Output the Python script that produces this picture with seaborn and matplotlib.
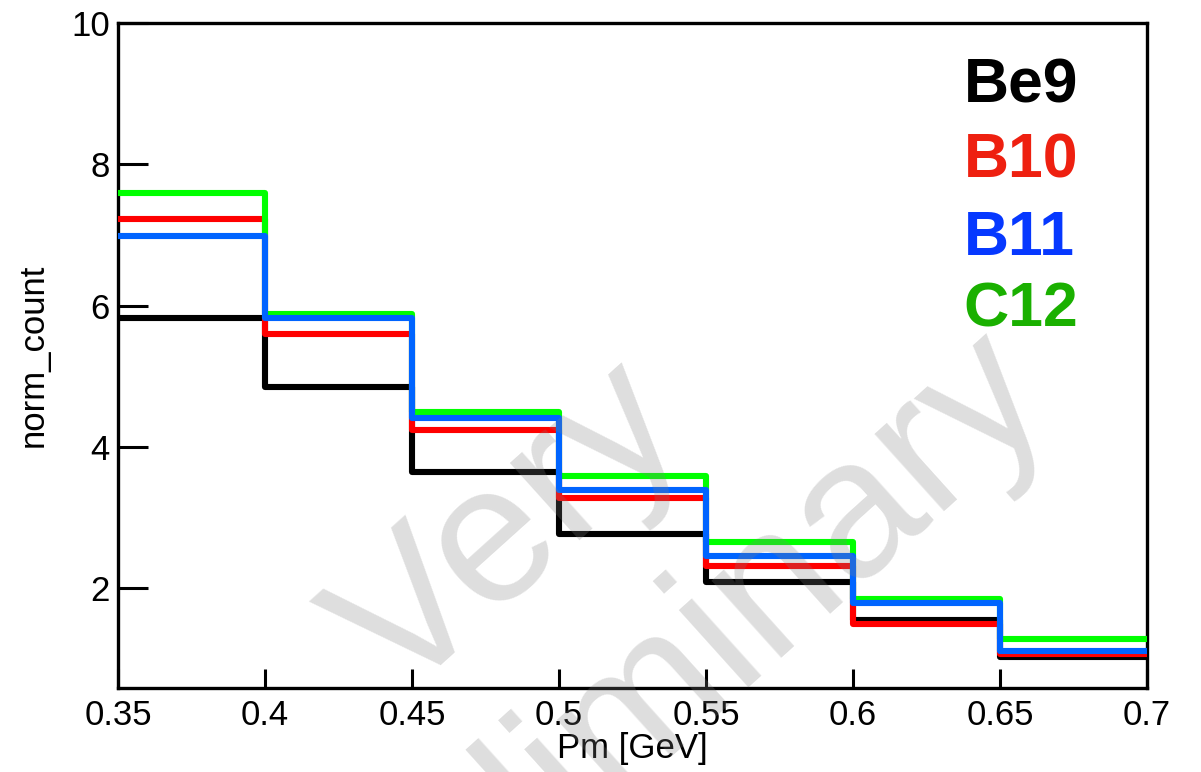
import numpy as np
import pandas as pd
import matplotlib
matplotlib.use("Agg")
import matplotlib.pyplot as plt
import seaborn as sns

# ---- data ----
bin_edges = [0.35, 0.40, 0.45, 0.50, 0.55, 0.60, 0.65, 0.70]
be9 = [5.82, 4.85, 3.64, 2.77, 2.08, 1.55, 1.02]
b10 = [7.23, 5.60, 4.24, 3.28, 2.31, 1.49, 1.07]
c12 = [7.59, 5.88, 4.49, 3.59, 2.65, 1.84, 1.28]
b11 = [6.98, 5.82, 4.41, 3.39, 2.46, 1.79, 1.11]
series_names = ["Be9", "B10", "B11", "C12"]
x_ticks = [0.35, 0.4, 0.45, 0.5, 0.55, 0.6, 0.65, 0.7]
x_tick_labels = ["0.35", "0.4", "0.45", "0.5", "0.55", "0.6", "0.65", "0.7"]
y_ticks = [2, 4, 6, 8, 10]
y_tick_labels = ["2", "4", "6", "8", "10"]

sns.set_theme(style="white")
plt.rcParams["font.family"] = ["Liberation Sans", "DejaVu Sans"]

fig = plt.figure(figsize=(12.01, 7.72), dpi=100)
ax = fig.add_axes([118 / 1201, 1 - 688 / 772, (1147 - 118) / 1201, (688 - 23) / 772])

centers = [(a + b) / 2 for a, b in zip(bin_edges[:-1], bin_edges[1:])]
line_colors = {"Be9": "#000000", "B10": "#ff0000", "C12": "#00ff00", "B11": "#0064ff"}
values = {"Be9": be9, "B10": b10, "C12": c12, "B11": b11}
draw_order = ["Be9", "B10", "C12", "B11"]
for i, name in enumerate(draw_order):
    df = pd.DataFrame({"Pm": centers, "w": values[name]})
    sns.histplot(data=df, x="Pm", weights="w", bins=bin_edges, element="step",
                 fill=False, color=line_colors[name], linewidth=4.4, ax=ax,
                 zorder=2 + i)

ax.set_xlim(0.35, 0.7)
ax.set_ylim(0.585, 10)
ax.set_xticks(x_ticks)
ax.set_xticklabels(x_tick_labels)
ax.set_yticks(y_ticks)
ax.set_yticklabels(y_tick_labels)
ax.tick_params(axis="both", direction="in", labelsize=25, colors="black",
               width=2.2, left=True, bottom=True, top=False, right=False)
ax.tick_params(axis="x", length=13.7, pad=8)
ax.tick_params(axis="y", length=21.6, pad=6)
for sp in ax.spines.values():
    sp.set_color("black")
    sp.set_linewidth(2.4)
ax.grid(False)

ax.set_xlabel("Pm [GeV]", fontsize=25, color="black")
ax.set_ylabel("norm_count", fontsize=25, color="black")
ax.xaxis.set_label_coords(0.5, -0.066)
ax.yaxis.set_label_coords(-0.066, 0.5)

legend_colors = ["#000000", "#ee2010", "#0638ff", "#1ab000"]
legend_y = [0.880, 0.767, 0.651, 0.543]
for name, col, yy in zip(series_names, legend_colors, legend_y):
    ax.text(0.822, yy, name, transform=ax.transAxes, fontsize=45,
            fontweight="bold", color=col, ha="left", va="baseline", zorder=10)

fig.text(582 / 1201, 1 - 612 / 772, "Very\nPreliminary", fontsize=142,
         color="0.5", alpha=0.26, rotation=42, rotation_mode="anchor",
         ha="center", va="center", multialignment="center", zorder=20)

fig.savefig("out.png", dpi=100, facecolor="white")
